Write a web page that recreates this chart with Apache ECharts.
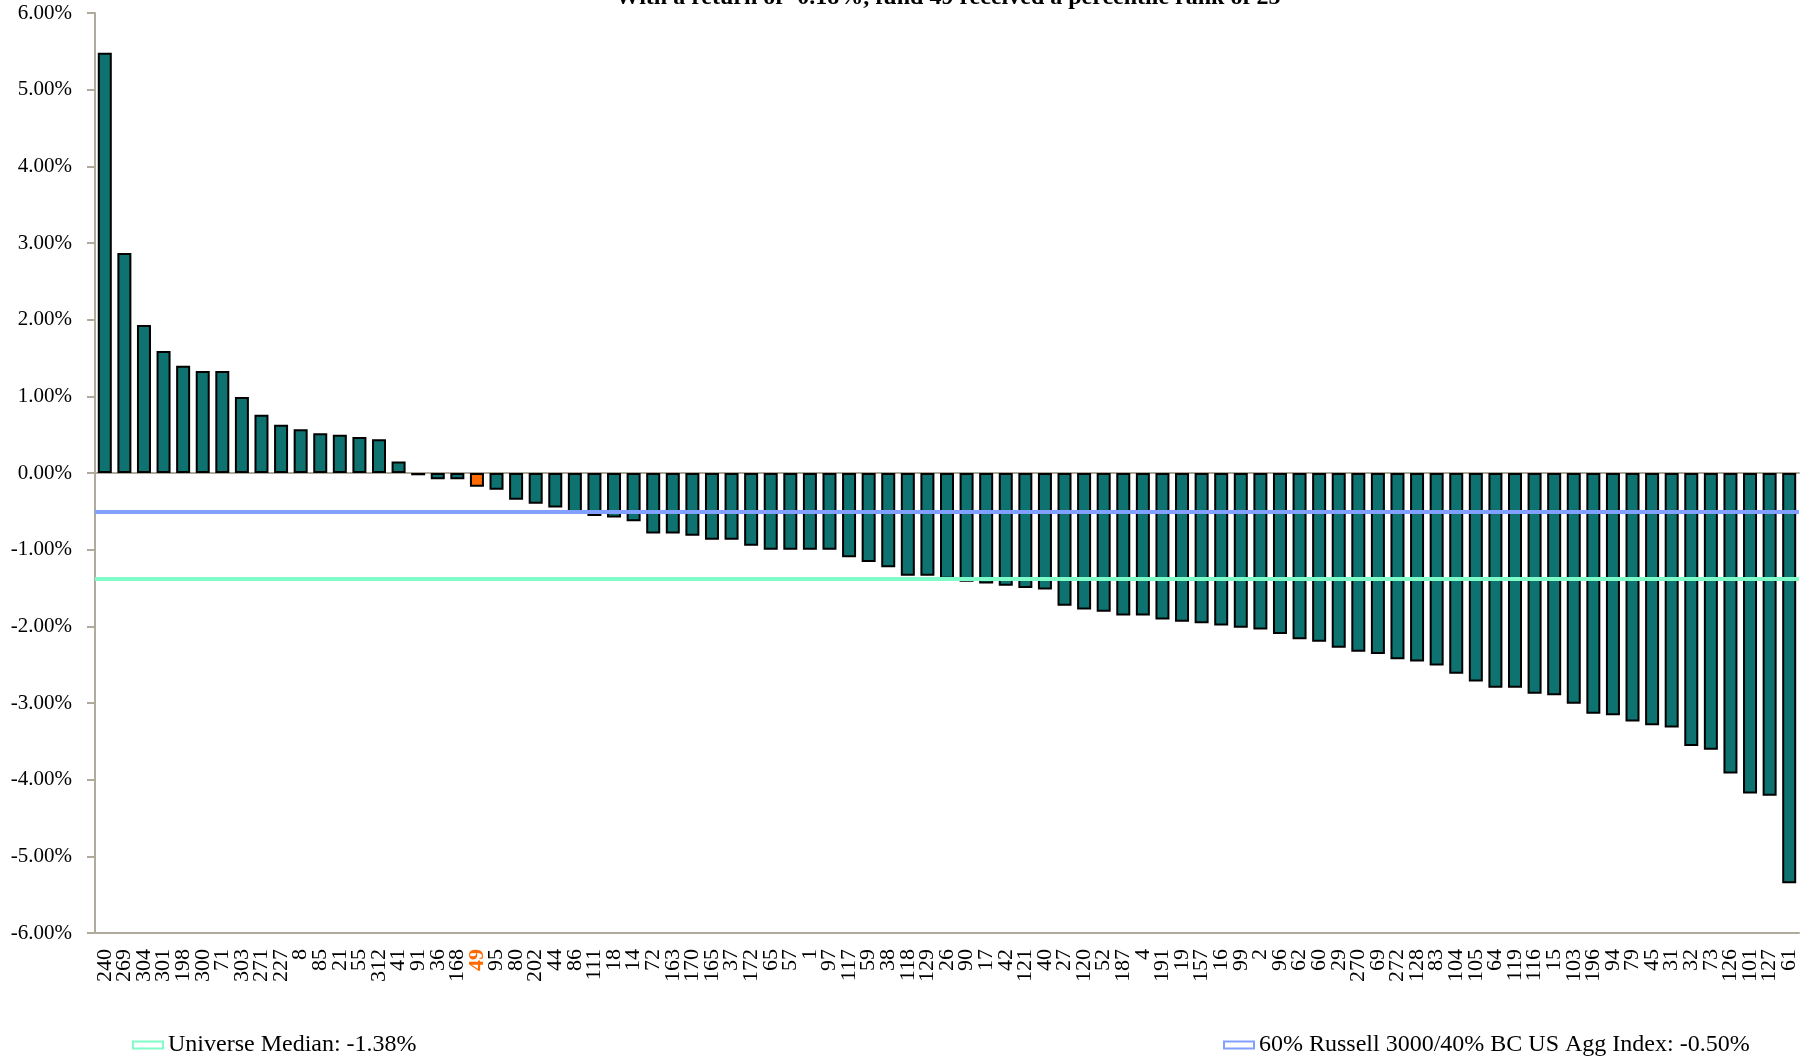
<!DOCTYPE html>
<html>
<head>
<meta charset="utf-8">
<script src="https://cdn.jsdelivr.net/npm/echarts@6/dist/echarts.min.js"></script>
<style>
html,body{margin:0;padding:0;background:#fff;}
#chart{width:1806px;height:1060px;}
</style>
</head>
<body>
<div id="chart"></div>
<script>
const titleText = 'With a return of -0.18%, fund 49 received a percentile rank of 25';

const funds = ['240','269','304','301','198','300','71','303','271','227','8','85','21','55','312','41','91','36','168','49','95','80','202','44','86','111','18','14','72','163','170','165','37','172','65','57','1','97','117','59','38','118','129','26','90','17','42','121','40','27','120','52','187','4','191','19','157','16','99','2','96','62','60','29','270','69','272','128','83','104','105','64','119','116','15','103','196','94','79','45','31','32','73','126','101','127','61'];

const returns = [5.48,2.87,1.93,1.59,1.40,1.33,1.33,0.99,0.76,0.63,0.57,0.52,0.50,0.47,0.44,0.15,-0.03,-0.08,-0.08,-0.18,-0.22,-0.35,-0.40,-0.45,-0.53,-0.56,-0.58,-0.63,-0.79,-0.79,-0.82,-0.87,-0.87,-0.95,-1.00,-1.00,-1.00,-1.00,-1.10,-1.16,-1.23,-1.34,-1.34,-1.38,-1.42,-1.44,-1.47,-1.50,-1.52,-1.73,-1.78,-1.81,-1.86,-1.86,-1.91,-1.94,-1.96,-1.99,-2.02,-2.04,-2.10,-2.17,-2.20,-2.28,-2.33,-2.36,-2.43,-2.46,-2.51,-2.62,-2.72,-2.80,-2.80,-2.88,-2.90,-3.01,-3.14,-3.16,-3.24,-3.29,-3.32,-3.56,-3.61,-3.92,-4.18,-4.21,-5.35];

const highlightFund = '49';
const medianName = 'Universe Median: -1.38%';
const medianValue = -1.38;
const benchName = '60% Russell 3000/40% BC US Agg Index: -0.50%';
const benchValue = -0.50;

const yMin = -6, yMax = 6, yStep = 1;

const barColor = '#0d7270';
const highlightColor = '#ff6a00';
const medianColor = '#80fcc8';
const benchColor = '#82a0ff';
const axisColor = '#b0aa9c';
const font = '"Liberation Serif","Times New Roman",serif';

const barData = returns.map((v, i) => ({
  value: v,
  itemStyle: funds[i] === highlightFund ? { color: highlightColor } : undefined
}));

const chart = echarts.init(document.getElementById('chart'), null, { renderer: 'canvas' });
chart.setOption({
  animation: false,
  backgroundColor: '#ffffff',
  textStyle: { fontFamily: font, color: '#000' },
  title: {
    text: titleText,
    left: 943,
    textAlign: 'center',
    top: -19,
    textStyle: { fontFamily: font, fontSize: 24, fontWeight: 'bold', color: '#000' }
  },
  grid: { left: 95, right: 7, top: 13, bottom: 127, containLabel: false },
  legend: [
    {
      left: 127, top: 1028, itemWidth: 30, itemHeight: 7, itemGap: 10,
      data: [{ name: medianName, icon: 'rect', itemStyle: { color: '#ffffff', borderColor: medianColor, borderWidth: 2 } }],
      textStyle: { fontFamily: font, fontSize: 24, color: '#000' }
    },
    {
      left: 1218, top: 1028, itemWidth: 30, itemHeight: 7, itemGap: 10,
      data: [{ name: benchName, icon: 'rect', itemStyle: { color: '#ffffff', borderColor: benchColor, borderWidth: 2 } }],
      textStyle: { fontFamily: font, fontSize: 24, color: '#000' }
    }
  ],
  xAxis: [
    {
      type: 'category',
      data: funds,
      position: 'bottom',
      boundaryGap: true,
      axisLine: { onZero: false, lineStyle: { color: axisColor, width: 2 } },
      axisTick: { alignWithLabel: true, length: 8, lineStyle: { color: axisColor, width: 2 } },
      axisLabel: {
        interval: 0,
        rotate: 90,
        margin: 16,
        fontFamily: font,
        fontSize: 22,
        color: '#000',
        formatter: (v) => v === highlightFund ? '{h|' + v + '}' : v,
        rich: { h: { color: highlightColor, fontWeight: 'bold', fontFamily: font, fontSize: 22 } }
      },
      splitLine: { show: false }
    },
    {
      type: 'category',
      data: funds,
      position: 'top',
      boundaryGap: true,
      axisLine: { onZero: true, lineStyle: { color: axisColor, width: 2 } },
      axisTick: { show: false },
      axisLabel: { show: false },
      splitLine: { show: false }
    }
  ],
  yAxis: {
    type: 'value',
    min: yMin, max: yMax, interval: yStep,
    axisLine: { show: true, lineStyle: { color: axisColor, width: 2 } },
    axisTick: { show: true, length: 8, lineStyle: { color: axisColor, width: 2 } },
    axisLabel: {
      fontFamily: font, fontSize: 21, color: '#000', margin: 23,
      formatter: (v) => v.toFixed(2) + '%'
    },
    splitLine: { show: false }
  },
  series: [
    {
      name: 'Returns',
      type: 'bar',
      xAxisIndex: 0,
      data: barData,
      barWidth: 14,
      itemStyle: { color: barColor, borderColor: '#000', borderWidth: 2 },
      z: 3
    },
    {
      name: medianName,
      type: 'line',
      xAxisIndex: 0,
      data: [],
      itemStyle: { color: medianColor },
      lineStyle: { color: medianColor },
      markLine: {
        silent: true, symbol: 'none', label: { show: false },
        lineStyle: { color: medianColor, width: 4, type: 'solid' },
        data: [{ yAxis: medianValue }]
      },
      z: 5
    },
    {
      name: benchName,
      type: 'line',
      xAxisIndex: 0,
      data: [],
      itemStyle: { color: benchColor },
      lineStyle: { color: benchColor },
      markLine: {
        silent: true, symbol: 'none', label: { show: false },
        lineStyle: { color: benchColor, width: 4, type: 'solid' },
        data: [{ yAxis: benchValue }]
      },
      z: 5
    }
  ]
});
</script>
</body>
</html>
